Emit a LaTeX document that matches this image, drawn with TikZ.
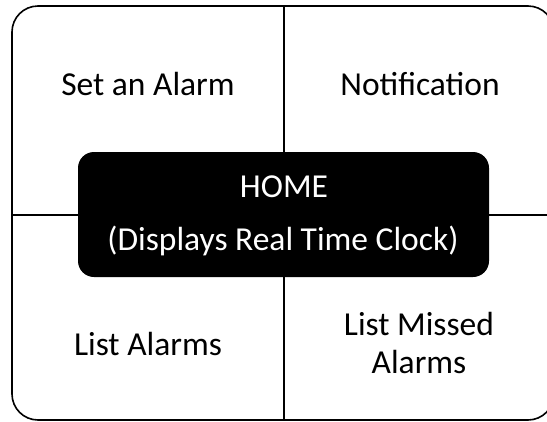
\documentclass[tikz,border=0pt]{standalone}
\usepackage{fontspec}
\setmainfont{Carlito}
\usetikzlibrary{positioning}

\begin{document}
\begin{tikzpicture}[x=1pt,y=-1pt]
    \tikzstyle{every node}+=[inner sep=0pt]
    \tikzstyle{label text}=[anchor=base, font=\fontsize{33.5}{37}\selectfont]
    \useasboundingbox (0,0) rectangle (547,421);
    % outer frame
    \draw [black, line width=1.6pt, rounded corners=26pt] (12,6) rectangle (554,420);
    \coordinate (top) at (284,6);
    \coordinate (bottom) at (284,420);
    \coordinate (left) at (12,215);
    \coordinate (right) at (554,215);
    \draw [black, line width=1.5pt] (top) -- (bottom);
    \draw [black, line width=1.5pt] (left) -- (right);
    % home box
    \node (home) [fill=black, rounded corners=16pt, minimum width=411pt, minimum height=125pt] at (283.5,214.5) {};
    \node (homet) [label text, white] at (284,197) {HOME};
    \node (clock) [label text, white] at (283,250) {(Displays Real Time Clock)};
    % quadrants
    \node (set) [label text] at (148,95) {Set an Alarm};
    \node (notif) [label text] at (420,95) {Notification};
    \node (list) [label text] at (148,355) {List Alarms};
    \node (miss1) [label text] at (419,335) {List Missed};
    \node (miss2) [label text] at (419,373) {Alarms};
\end{tikzpicture}
\end{document}
